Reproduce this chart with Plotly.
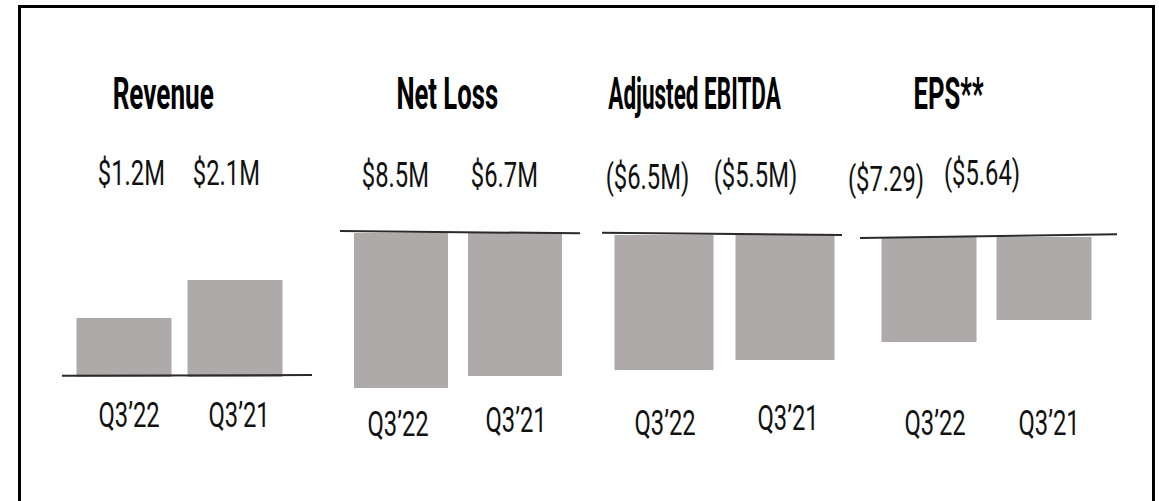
import json
import plotly.graph_objects as go

W, H = 1159, 501

# ---------------- data ----------------
titles = ["Revenue", "Net Loss", "Adjusted EBITDA", "EPS**"]
periods = ["Q3’22", "Q3’21"]
value_labels = [
    ["$1.2M", "$2.1M"],
    ["$8.5M", "$6.7M"],
    ["($6.5M)", "($5.5M)"],
    ["($7.29)", "($5.64)"],
]
# bar heights as drawn in the picture (relative units, negative = loss)
revenue_bars = [59, 97]
net_loss_bars = [-155, -143]
ebitda_bars = [-135, -125]
eps_bars = [-105, -83]
bar_series = [revenue_bars, net_loss_bars, ebitda_bars, eps_bars]

# ---------------- layout (pixels) ----------------
BAR_COLOR = "#aeaaa9"
TEXT_COLOR = "#111111"
FONT = "Roboto, Liberation Sans, Arial, sans-serif"
TITLE_SIZE, TEXT_SIZE = 45, 35
TITLE_SCALE = [0.58, 0.57, 0.5, 0.57]   # horizontal condensing of titles
TEXT_SCALE = 0.68                       # horizontal condensing of labels

panels = [
    dict(x0=62, x1=312, c0=124, c1=235, bw=95, zero=377, tilt=(1.3, 2.0),
         title_x=163, val_x=(131, 226), val_y=(173, 173), cat_x=(129, 239), cat_y=(415, 415)),
    dict(x0=340, x1=580, c0=401, c1=515, bw=94, zero=233, tilt=(2.0, -0.3),
         title_x=447, val_x=(395, 504), val_y=(175, 175), cat_x=(398, 516), cat_y=(424, 420)),
    dict(x0=602, x1=842, c0=664, c1=785, bw=99, zero=235, tilt=(2.3, 0.0),
         title_x=695, val_x=(647, 755), val_y=(177, 176), cat_x=(665, 788), cat_y=(423, 418)),
    dict(x0=860, x1=1117, c0=929, c1=1044, bw=95, zero=237, tilt=(-1.0, 2.7),
         title_x=948, val_x=(886, 982), val_y=(180, 173), cat_x=(935, 1049), cat_y=(423, 423)),
]
Y_TOP, Y_BOT = 200, 400  # plot band in px; 1 data unit = 1 px


def px(x):
    return x / W


def py(y):
    return 1 - y / H


fig = go.Figure()
annotations = []
text_scales = []
shapes = []

for i, (p, vals) in enumerate(zip(panels, bar_series)):
    k = "" if i == 0 else str(i + 1)
    d = p["c1"] - p["c0"]
    fig.add_trace(go.Bar(
        x=[0, 1], y=vals, width=p["bw"] / d,
        marker=dict(color=BAR_COLOR, line=dict(width=0)),
        xaxis="x" + k, yaxis="y" + k, showlegend=False, hoverinfo="skip",
    ))
    fig.layout["xaxis" + k] = dict(
        domain=[px(p["x0"]), px(p["x1"])],
        range=[(p["x0"] - p["c0"]) / d, (p["x1"] - p["c0"]) / d],
        visible=False, fixedrange=True, anchor="y" + k,
    )
    fig.layout["yaxis" + k] = dict(
        domain=[py(Y_BOT), py(Y_TOP)],
        range=[-(Y_BOT - p["zero"]), p["zero"] - Y_TOP],
        visible=False, fixedrange=True, anchor="x" + k,
    )
    # baseline
    shapes.append(dict(
        type="line", xref=f"x{k} domain", yref="y" + k,
        x0=0, x1=1, y0=p["tilt"][0], y1=p["tilt"][1],
        line=dict(color="#2a2a2a", width=2), layer="above",
    ))
    # title
    annotations.append(dict(
        text=titles[i], x=px(p["title_x"]), y=py(94), xref="paper", yref="paper",
        xanchor="center", yanchor="middle", showarrow=False,
        font=dict(family=FONT, size=TITLE_SIZE, color="#000000", weight="bold"),
    ))
    text_scales.append(TITLE_SCALE[i])
    for j in range(2):
        annotations.append(dict(
            text=value_labels[i][j], x=px(p["val_x"][j]), y=py(p["val_y"][j]),
            xref="paper", yref="paper", xanchor="center", yanchor="middle",
            showarrow=False,
            font=dict(family=FONT, size=TEXT_SIZE, color=TEXT_COLOR),
        ))
        text_scales.append(TEXT_SCALE)
        annotations.append(dict(
            text=periods[j], x=px(p["cat_x"][j]), y=py(p["cat_y"][j]),
            xref="paper", yref="paper", xanchor="center", yanchor="middle",
            showarrow=False,
            font=dict(family=FONT, size=TEXT_SIZE, color=TEXT_COLOR),
        ))
        text_scales.append(TEXT_SCALE)

# outer frame (bottom edge runs past the picture)
shapes.append(dict(
    type="rect", xref="paper", yref="paper",
    x0=px(19.5), x1=px(1153.5), y0=py(515), y1=py(6.5),
    line=dict(color="#000000", width=3), fillcolor="rgba(0,0,0,0)", layer="above",
))

fig.update_layout(
    width=W, height=H,
    margin=dict(l=0, r=0, t=0, b=0),
    paper_bgcolor="white", plot_bgcolor="white",
    annotations=annotations, shapes=shapes,
    barmode="overlay", showlegend=False,
)

# condense the (real) text horizontally, like the narrow typeface of the original
post_js = """
var scales = %s;
var gd = document.getElementById('{plot_id}');
var texts = gd.querySelectorAll('.annotation-text');
for (var i = 0; i < texts.length && i < scales.length; i++) {
    var t = texts[i];
    t.style.transformBox = 'fill-box';
    t.style.transformOrigin = 'center';
    t.style.transform = 'scaleX(' + scales[i] + ')';
}
""" % json.dumps(text_scales)

fig.write_html("out.html", config={"displayModeBar": False}, post_script=post_js)
